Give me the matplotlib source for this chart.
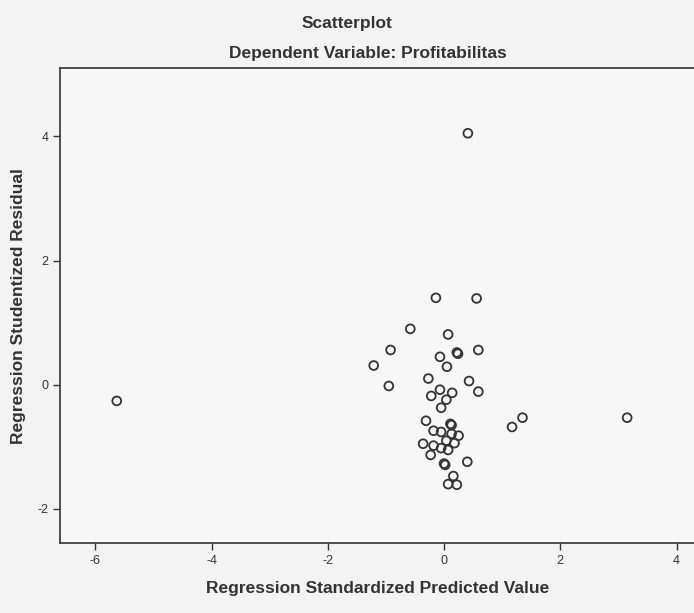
import matplotlib
matplotlib.use('Agg')
import matplotlib.pyplot as plt

plt.rcParams['font.family'] = ['Liberation Sans Narrow', 'Liberation Sans', 'DejaVu Sans']
plt.rcParams['axes.unicode_minus'] = False

# Regression standardized predicted value (x) vs studentized residual (y)
pred = [-0.14, 0.56, -0.58, 0.07, -0.92, 0.22, 0.24, 0.59, -0.07, -1.21,
        0.05, -0.95, -0.27, 0.43, -0.07, 0.59, -0.22, 0.14, 0.04, -0.05,
        1.35, 1.17, -0.31, 0.13, 0.11, -0.18, -0.05, 0.13, 0.25, -0.36,
        0.04, 0.18, -0.18, -0.05, 0.07, -0.23, 0.02, 0.00, 0.40, 0.16,
        0.07, 0.22, 0.41, -5.63, 3.15]
resid = [1.40, 1.39, 0.90, 0.81, 0.56, 0.52, 0.50, 0.56, 0.45, 0.31,
         0.29, -0.02, 0.10, 0.06, -0.08, -0.11, -0.18, -0.13, -0.24, -0.37,
         -0.53, -0.68, -0.58, -0.65, -0.63, -0.74, -0.76, -0.79, -0.82, -0.95,
         -0.90, -0.94, -0.98, -1.02, -1.05, -1.13, -1.29, -1.27, -1.24, -1.47,
         -1.60, -1.61, 4.05, -0.26, -0.53]

xticks = [-6, -4, -2, 0, 2, 4]
yticks = [-2, 0, 2, 4]

fig = plt.figure(figsize=(6.94, 6.13), dpi=100, facecolor='#f3f3f3')
ax = fig.add_axes([0.087, 0.114, 0.913, 0.775])
ax.set_facecolor('#f7f7f7')

ax.scatter(pred, resid, s=40, facecolors='none', edgecolors='#333333', linewidths=1.3)

ax.set_xlim(-6.6, 4.3)
ax.set_ylim(-2.55, 5.1)
ax.set_xticks(xticks)
ax.set_yticks(yticks)
ax.tick_params(direction='out', length=5, width=1, labelsize=9, colors='#333333')
ax.spines['right'].set_visible(False)
for s in ['left', 'bottom', 'top']:
    ax.spines[s].set_color('#333333')
    ax.spines[s].set_linewidth(1.2)

ax.set_xlabel('Regression Standardized Predicted Value', fontsize=12.5,
              fontweight='bold', color='#333333', labelpad=10)
ax.set_ylabel('Regression Studentized Residual', fontsize=12.5,
              fontweight='bold', color='#333333', labelpad=8)

fig.text(0.5, 0.962, 'Scatterplot', ha='center', va='center', fontsize=12.5,
         fontweight='bold', color='#333333')
fig.text(0.53, 0.912, 'Dependent Variable: Profitabilitas', ha='center', va='center',
         fontsize=12.5, fontweight='bold', color='#333333')

fig.savefig('out.png', dpi=100, facecolor=fig.get_facecolor())
